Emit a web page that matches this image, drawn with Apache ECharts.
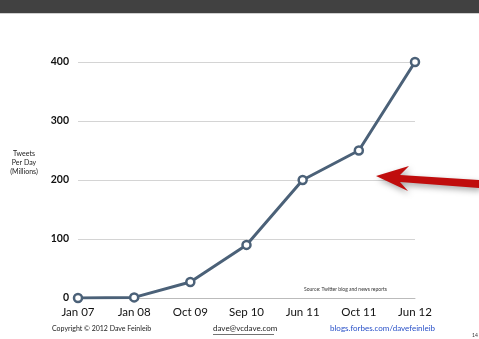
<!DOCTYPE html>
<html><head><meta charset="utf-8">
<script src="https://cdn.jsdelivr.net/npm/echarts@6/dist/echarts.min.js"></script>
<style>html,body{margin:0;padding:0;background:#fff}#c{width:479px;height:339px}</style>
</head><body><div id="c"></div>
<script>
const categories = ['Jan 07','Jan 08','Oct 09','Sep 10','Jun 11','Oct 11','Jun 12'];
const tweetsPerDay = [0, 1, 27, 90, 200, 250, 400];
const yTicks = [0, 100, 200, 300, 400];

const chart = echarts.init(document.getElementById('c'), null, {renderer:'canvas'});
const font = '"Lato","Open Sans",sans-serif';
chart.setOption({
  animation:false,
  backgroundColor:'#fff',
  grid:{left:78,right:64,top:62,bottom:41,containLabel:false},
  xAxis:{type:'category',data:categories,boundaryGap:false,
    axisLine:{show:true,lineStyle:{color:'#bbb',width:1}},
    axisTick:{show:false},
    axisLabel:{color:'#111',fontSize:11.5,fontFamily:font,margin:8}},
  yAxis:{type:'value',min:yTicks[0],max:yTicks[yTicks.length-1],interval:100,
    axisLine:{show:false},axisTick:{show:false},
    splitLine:{lineStyle:{color:'#d4d4d4',width:1}},
    axisLabel:{color:'#111',fontSize:10.5,fontWeight:'bold',fontFamily:font,margin:9}},
  series:[{type:'line',data:tweetsPerDay,symbol:'circle',symbolSize:8,
    lineStyle:{color:'#4b6178',width:3},
    itemStyle:{color:'#fff',borderColor:'#4b6178',borderWidth:2.5},z:5}],
  graphic:[
    {type:'rect',shape:{x:0,y:0,width:479,height:13},style:{fill:'#414141'},z:10},
    {type:'rect',shape:{x:0,y:13,width:479,height:1},style:{fill:'#cfcfcf'},z:10},
    {type:'text',style:{x:24,y:149,text:'Tweets\nPer Day\n(Millions)',textAlign:'center',fill:'#222',fontSize:7,lineHeight:9,fontFamily:font},z:10},
    {type:'text',left:304,top:287,style:{text:'Source: Twitter blog and news reports',fill:'#333',fontSize:5,fontFamily:font},z:10},
    {type:'text',left:52,top:325,style:{text:'Copyright © 2012 Dave Feinleib',fill:'#222',fontSize:7,fontFamily:font},z:10},
    {type:'text',left:213,top:324,style:{text:'dave@vcdave.com',fill:'#222',fontSize:8,fontFamily:font},z:10},
    {type:'rect',shape:{x:213,y:334,width:61,height:0.8},style:{fill:'#444'},z:10},
    {type:'text',left:330,top:324,style:{text:'blogs.forbes.com/davefeinleib',fill:'#2850c8',fontSize:8,fontFamily:font},z:10},
    {type:'text',left:472,top:333,style:{text:'14',fill:'#333',fontSize:5,fontFamily:font},z:10},
    {type:'polygon',shape:{points:[[376,176],[409,166],[400,175],[479,180],[479,188],[400,182],[408,191]]},
      style:{fill:'#c00d0d',shadowBlur:6,shadowColor:'rgba(0,0,0,0.35)',shadowOffsetX:2,shadowOffsetY:3},z:10}
  ]
});
</script></body></html>
